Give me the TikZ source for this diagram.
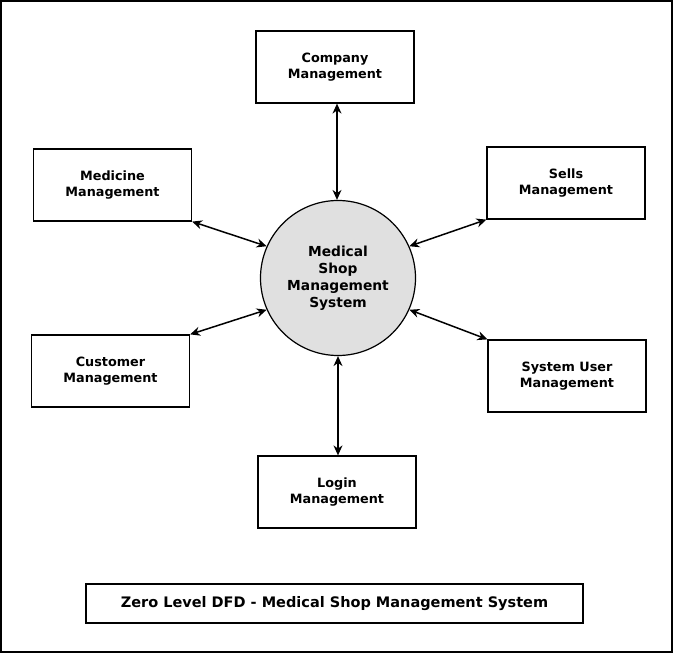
\documentclass[tikz,border=0pt]{standalone}
\usepackage{fontspec}
\setmainfont{DejaVu Sans}
\usetikzlibrary{arrows.meta}
\begin{document}
\begin{tikzpicture}[x=1pt,y=-1pt,
  ent/.style={draw,line width=1.2pt,minimum width=158pt,minimum height=72pt,align=center,font=\bfseries\fontsize{12.8}{16}\selectfont,inner sep=0pt},
  flow/.style={{Stealth[length=10pt,width=9pt]}-{Stealth[length=10pt,width=9pt]},line width=1.5pt}]
\useasboundingbox (0,0) rectangle (675,655);
\draw[line width=1.2pt] (1,1) rectangle (672,652);
\node[draw,line width=1.2pt,circle,fill={rgb,255:red,224;green,224;blue,224},minimum size=155pt,align=center,font=\bfseries\fontsize{13.8}{17}\selectfont,inner sep=0pt] (c) at (338,278) {Medical\\Shop\\Management\\System};
\node[ent] (co) at (335,67) {Company\\Management};
\node[ent] (me) at (112.5,185) {Medicine\\Management};
\node[ent] (se) at (566,183) {Sells\\Management};
\node[ent] (cu) at (110.5,371) {Customer\\Management};
\node[ent] (su) at (567,376) {System User\\Management};
\node[ent] (lo) at (337,492) {Login\\Management};
\node[draw,line width=1.2pt,minimum width=497pt,minimum height=39pt,inner sep=0pt,font=\bfseries\fontsize{14.5}{17}\selectfont] (t) at (334.5,603.5) {Zero Level DFD - Medical Shop Management System};
\draw[flow] (co.south -| 337,0) -- (c.north -| 337,0);
\draw[flow] (me.south east) -- (c.156);
\draw[flow] (se.south west) -- (c.24);
\draw[flow] (cu.north east) -- (c.204);
\draw[flow] (su.north west) -- (c.-24);
\draw[flow] (lo.north -| 338,0) -- (c.south);
\end{tikzpicture}
\end{document}
